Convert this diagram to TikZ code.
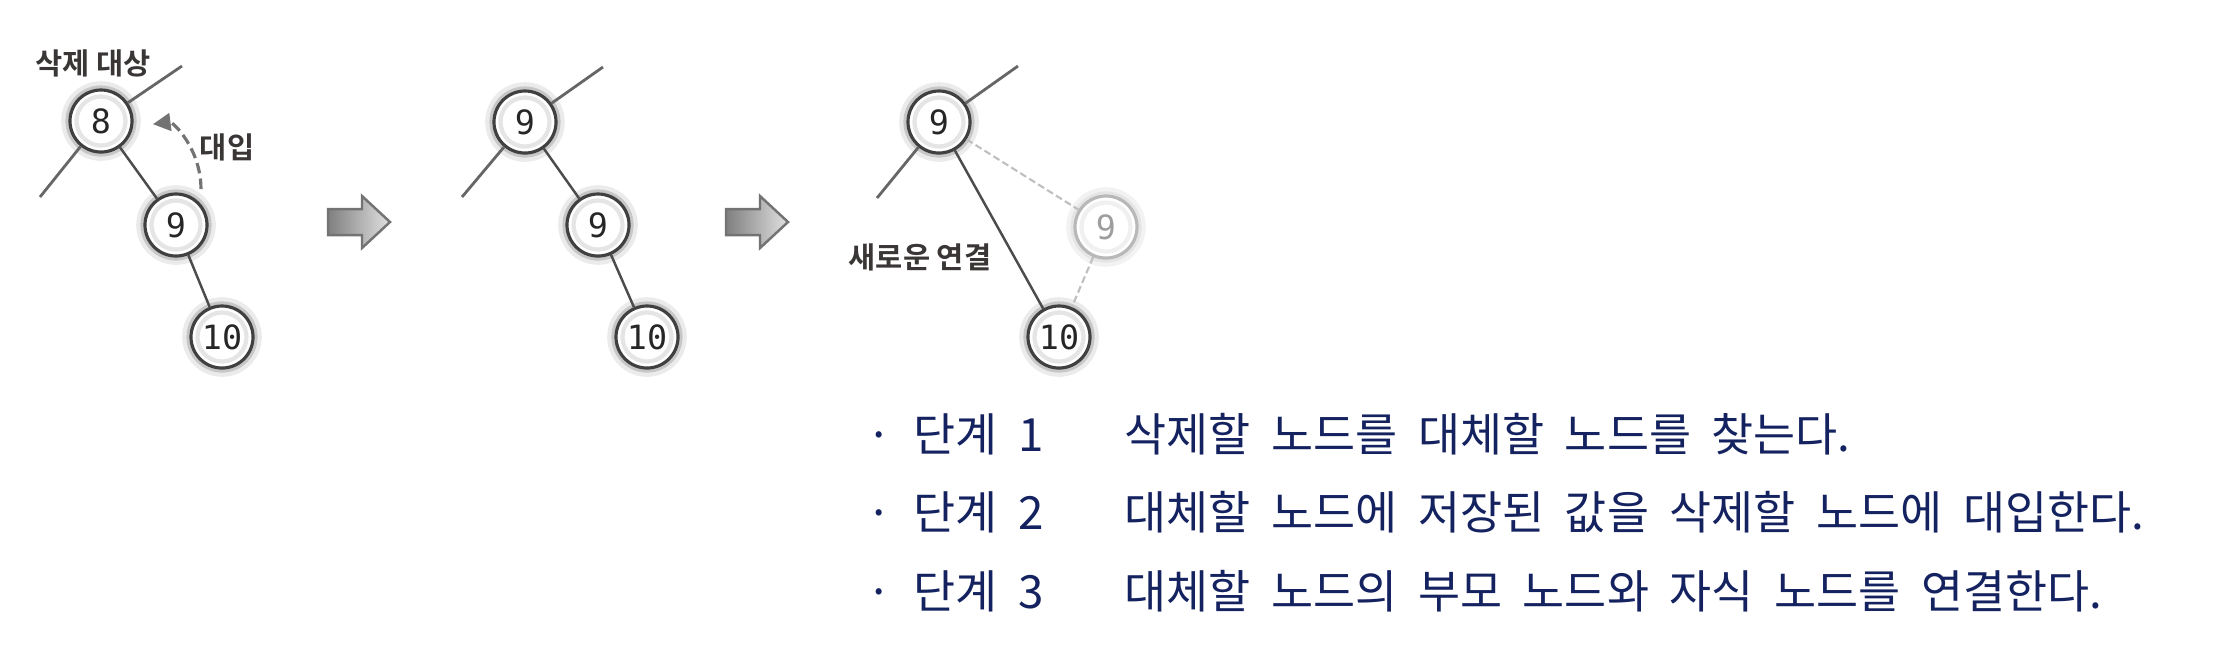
\documentclass[tikz,border=0pt]{standalone}
\usepackage{fontspec}
\setmainfont{Noto Sans CJK KR}[BoldFont={Noto Sans CJK KR Bold}]
\newfontfamily\numfont{DejaVu Sans Mono}
\usetikzlibrary{arrows.meta, positioning}

\definecolor{stepblue}{RGB}{20,34,96}
\definecolor{inkgray}{RGB}{58,54,54}
\newcommand{\stepfont}{\fontsize{13}{15}\selectfont\spaceskip=0.45em\relax}

\begin{document}
\begin{tikzpicture}[
    x=0.01cm, y=-0.01cm,
    tbase/.style={circle, line width=0.9pt, fill=white, minimum size=0.62cm, inner sep=0pt,
        font=\numfont\fontsize{9.5}{9.5}\selectfont},
    tnode/.style={tbase, draw=black!75, text=black!85,
        preaction={draw=black!8, line width=5pt}, preaction={draw=black!22, line width=2.6pt},
        path picture={\draw[black!10, line width=1.2pt] (path picture bounding box.center) circle (0.245cm);}},
    tfaded/.style={tbase, draw=black!28, text=black!38,
        preaction={draw=black!5, line width=5pt}, preaction={draw=black!10, line width=2.6pt},
        path picture={\draw[black!6, line width=1.2pt] (path picture bounding box.center) circle (0.245cm);}},
    stub/.style={draw=black!60, line width=0.8pt},
    link/.style={draw=black!70, line width=0.7pt},
    oldlink/.style={draw=black!25, line width=0.6pt, dash pattern=on 2pt off 1pt},
    assign/.style={draw=black!55, line width=0.9pt, dash pattern=on 3pt off 1.5pt, -{Triangle[length=5pt, width=5pt]}},
    tag/.style={font=\bfseries\fontsize{8.4}{9}\selectfont, text=inkgray, inner sep=0pt},
    stagearrow/.style={draw=black!55, line width=0.7pt, left color=black!50, right color=black!12},
    steptext/.style={font=\stepfont, text=stepblue, inner sep=0pt, anchor=west}
]
    % area of the reference
    \useasboundingbox (0,0) rectangle (2216,656);

    % before: node 8 is deleted
    \node[tnode] (del) at (101,121) {8};
    \node[tnode] (rep) at (176,225) {9};
    \node[tnode] (leaf a) at (222,337) {10};
    \coordinate (del up) at (182,66);
    \coordinate (del dn) at (40,197);
    \draw[stub] (del) -- (del up);
    \draw[stub] (del) -- (del dn);
    \draw[link] (del) -- (rep);
    \draw[link] (rep) -- (leaf a);
    \node[tag] (del tag) at (93,63) {삭제 대상};
    \node[tag] (asg tag) at (227,147) {대입};
    \draw[assign, shorten <=0.15cm, shorten >=0.2cm] (rep.40) .. controls +(0,-55) and +(40,-5) .. (del.-10);

    \draw[stagearrow, shift={(330,222)}] (-2,-13) -- (32,-13) -- (32,-26) -- (60,0) -- (32,26) -- (32,13) -- (-2,13) -- cycle;

    % value copied
    \node[tnode] (top b) at (525,122) {9};
    \node[tnode] (mid b) at (598,225) {9};
    \node[tnode] (leaf b) at (647,337) {10};
    \coordinate (top b up) at (603,67);
    \coordinate (top b dn) at (462,197);
    \draw[stub] (top b) -- (top b up);
    \draw[stub] (top b) -- (top b dn);
    \draw[link] (top b) -- (mid b);
    \draw[link] (mid b) -- (leaf b);

    \draw[stagearrow, shift={(728,222)}] (-2,-13) -- (32,-13) -- (32,-26) -- (60,0) -- (32,26) -- (32,13) -- (-2,13) -- cycle;

    % relinked
    \node[tnode] (top c) at (939,122) {9};
    \node[tfaded] (old c) at (1106,227) {9};
    \node[tnode] (leaf c) at (1059,337) {10};
    \coordinate (top c up) at (1018,66);
    \coordinate (top c dn) at (877,198);
    \draw[stub] (top c) -- (top c up);
    \draw[stub] (top c) -- (top c dn);
    \draw[oldlink] (top c) -- (old c);
    \draw[oldlink] (old c) -- (leaf c);
    \draw[link] (top c) -- (leaf c);
    \node[tag] (new tag) at (920,257) {새로운 연결};

    % steps
    \node[steptext] (step1) at (913,434) {단계 1};
    \node[steptext, anchor=base east, base left=0.2cm of step1] (dot1) {·};
    \node[steptext] (desc1) at (1124,434) {삭제할 노드를 대체할 노드를 찾는다.};
    \node[steptext] (step2) at (913,512) {단계 2};
    \node[steptext, anchor=base east, base left=0.2cm of step2] (dot2) {·};
    \node[steptext] (desc2) at (1124,512) {대체할 노드에 저장된 값을 삭제할 노드에 대입한다.};
    \node[steptext] (step3) at (913,591) {단계 3};
    \node[steptext, anchor=base east, base left=0.2cm of step3] (dot3) {·};
    \node[steptext] (desc3) at (1124,591) {대체할 노드의 부모 노드와 자식 노드를 연결한다.};
\end{tikzpicture}
\end{document}
